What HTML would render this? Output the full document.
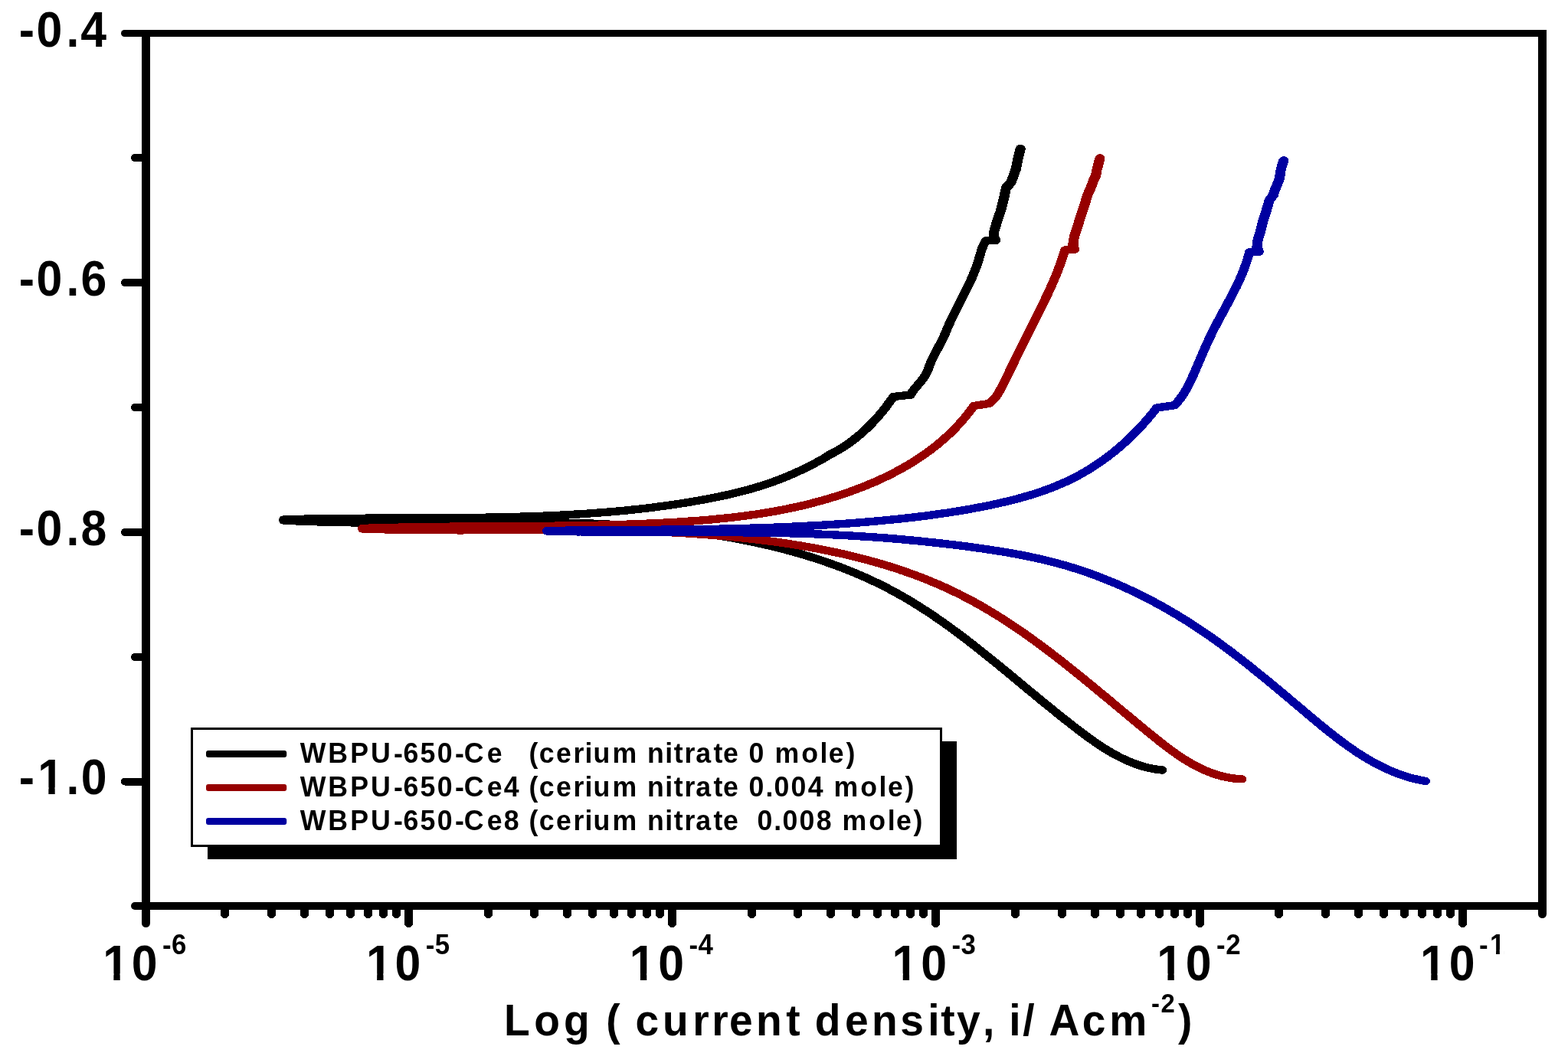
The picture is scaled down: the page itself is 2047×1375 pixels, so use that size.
<!DOCTYPE html>
<html lang="en">
<head>
<meta charset="utf-8">
<title>Polarization curves</title>
<style>
html,body{margin:0;padding:0;background:#fff;}
body{width:2047px;height:1375px;overflow:hidden;position:relative;}
</style>
</head>
<body>
<svg width="2047" height="1375" viewBox="0 0 2047 1375" style="position:absolute;left:0;top:0;display:block">
<rect x="0" y="0" width="2047" height="1375" fill="#ffffff"/>
<g fill="#000" shape-rendering="crispEdges">
<rect x="162" y="39" width="1857" height="9"/>
<rect x="176" y="1178" width="1843" height="10"/>
<rect x="185" y="39" width="11" height="1166.5"/>
<rect x="2008" y="39" width="11" height="1154.5"/>
</g>
<g fill="#000">
<circle cx="162.5" cy="43.5" r="4.5"/>
<circle cx="176" cy="1183" r="5"/>
<circle cx="190.5" cy="1205.5" r="5.5"/>
<circle cx="2013.5" cy="1193.5" r="5.5"/>
</g>
<g stroke="#000" stroke-linecap="round" fill="none" shape-rendering="crispEdges">
<line x1="163" y1="369" x2="188" y2="369" stroke-width="10"/>
<line x1="163" y1="695" x2="188" y2="695" stroke-width="10"/>
<line x1="163" y1="1020.5" x2="188" y2="1020.5" stroke-width="10"/>
<line x1="176" y1="206" x2="188" y2="206" stroke-width="10"/>
<line x1="176" y1="532" x2="188" y2="532" stroke-width="10"/>
<line x1="176" y1="858" x2="188" y2="858" stroke-width="10"/>
<line x1="533.50" y1="1185" x2="533.50" y2="1205.5" stroke-width="11"/>
<line x1="877.50" y1="1185" x2="877.50" y2="1205.5" stroke-width="11"/>
<line x1="1221.50" y1="1185" x2="1221.50" y2="1205.5" stroke-width="11"/>
<line x1="1566.50" y1="1185" x2="1566.50" y2="1205.5" stroke-width="11"/>
<line x1="1909.50" y1="1185" x2="1909.50" y2="1205.5" stroke-width="11"/>
<line x1="293.50" y1="1185" x2="293.50" y2="1193.5" stroke-width="11"/>
<line x1="354.50" y1="1185" x2="354.50" y2="1193.5" stroke-width="11"/>
<line x1="397.50" y1="1185" x2="397.50" y2="1193.5" stroke-width="11"/>
<line x1="430.50" y1="1185" x2="430.50" y2="1193.5" stroke-width="11"/>
<line x1="457.50" y1="1185" x2="457.50" y2="1193.5" stroke-width="11"/>
<line x1="480.50" y1="1185" x2="480.50" y2="1193.5" stroke-width="11"/>
<line x1="500.50" y1="1185" x2="500.50" y2="1193.5" stroke-width="11"/>
<line x1="517.50" y1="1185" x2="517.50" y2="1193.5" stroke-width="11"/>
<line x1="637.50" y1="1185" x2="637.50" y2="1193.5" stroke-width="11"/>
<line x1="697.50" y1="1185" x2="697.50" y2="1193.5" stroke-width="11"/>
<line x1="740.50" y1="1185" x2="740.50" y2="1193.5" stroke-width="11"/>
<line x1="773.50" y1="1185" x2="773.50" y2="1193.5" stroke-width="11"/>
<line x1="801.50" y1="1185" x2="801.50" y2="1193.5" stroke-width="11"/>
<line x1="824.50" y1="1185" x2="824.50" y2="1193.5" stroke-width="11"/>
<line x1="844.50" y1="1185" x2="844.50" y2="1193.5" stroke-width="11"/>
<line x1="861.50" y1="1185" x2="861.50" y2="1193.5" stroke-width="11"/>
<line x1="981.50" y1="1185" x2="981.50" y2="1193.5" stroke-width="11"/>
<line x1="1041.50" y1="1185" x2="1041.50" y2="1193.5" stroke-width="11"/>
<line x1="1084.50" y1="1185" x2="1084.50" y2="1193.5" stroke-width="11"/>
<line x1="1117.50" y1="1185" x2="1117.50" y2="1193.5" stroke-width="11"/>
<line x1="1145.50" y1="1185" x2="1145.50" y2="1193.5" stroke-width="11"/>
<line x1="1168.50" y1="1185" x2="1168.50" y2="1193.5" stroke-width="11"/>
<line x1="1188.50" y1="1185" x2="1188.50" y2="1193.5" stroke-width="11"/>
<line x1="1205.50" y1="1185" x2="1205.50" y2="1193.5" stroke-width="11"/>
<line x1="1325.50" y1="1185" x2="1325.50" y2="1193.5" stroke-width="11"/>
<line x1="1386.50" y1="1185" x2="1386.50" y2="1193.5" stroke-width="11"/>
<line x1="1429.50" y1="1185" x2="1429.50" y2="1193.5" stroke-width="11"/>
<line x1="1462.50" y1="1185" x2="1462.50" y2="1193.5" stroke-width="11"/>
<line x1="1489.50" y1="1185" x2="1489.50" y2="1193.5" stroke-width="11"/>
<line x1="1513.50" y1="1185" x2="1513.50" y2="1193.5" stroke-width="11"/>
<line x1="1533.50" y1="1185" x2="1533.50" y2="1193.5" stroke-width="11"/>
<line x1="1550.50" y1="1185" x2="1550.50" y2="1193.5" stroke-width="11"/>
<line x1="1669.50" y1="1185" x2="1669.50" y2="1193.5" stroke-width="11"/>
<line x1="1730.50" y1="1185" x2="1730.50" y2="1193.5" stroke-width="11"/>
<line x1="1773.50" y1="1185" x2="1773.50" y2="1193.5" stroke-width="11"/>
<line x1="1806.50" y1="1185" x2="1806.50" y2="1193.5" stroke-width="11"/>
<line x1="1833.50" y1="1185" x2="1833.50" y2="1193.5" stroke-width="11"/>
<line x1="1856.50" y1="1185" x2="1856.50" y2="1193.5" stroke-width="11"/>
<line x1="1876.50" y1="1185" x2="1876.50" y2="1193.5" stroke-width="11"/>
<line x1="1893.50" y1="1185" x2="1893.50" y2="1193.5" stroke-width="11"/>
</g>
<g transform="scale(1.13 1)" shape-rendering="crispEdges">
<polyline points="327.44,678.5 330.90,678.4 334.36,678.3 337.83,678.1 341.30,678.0 344.77,677.9 348.25,677.8 351.73,677.7 355.21,677.6 358.70,677.6 362.19,677.5 365.68,677.4 369.18,677.3 372.68,677.3 376.18,677.2 379.69,677.1 383.20,677.1 386.71,677.0 390.23,677.0 393.74,676.9 397.26,676.9 400.79,676.9 404.31,676.8 407.84,676.8 411.37,676.8 414.91,676.7 418.44,676.7 421.98,676.7 425.52,676.6 429.07,676.6 432.61,676.6 436.16,676.6 439.71,676.6 443.26,676.5 446.81,676.5 450.37,676.5 453.93,676.5 457.48,676.5 461.04,676.5 464.61,676.5 468.17,676.5 471.74,676.4 475.30,676.4 478.87,676.4 482.44,676.4 486.01,676.4 489.58,676.4 493.16,676.4 496.73,676.3 500.31,676.3 503.88,676.3 507.46,676.3 511.04,676.3 514.62,676.2 518.20,676.2 521.78,676.2 525.36,676.2 528.94,676.1 532.52,676.1 536.10,676.0 539.69,676.0 543.27,676.0 546.85,675.9 550.44,675.9 554.02,675.8 557.60,675.7 561.19,675.7 564.77,675.6 568.35,675.6 571.94,675.5 575.52,675.4 579.11,675.3 582.69,675.2 586.27,675.1 589.85,675.0 593.43,674.9 597.02,674.8 600.60,674.7 604.18,674.6 607.75,674.5 611.33,674.4 614.91,674.2 618.49,674.1 622.06,673.9 625.64,673.8 629.21,673.6 632.78,673.4 636.35,673.3 639.92,673.1 643.49,672.9 647.06,672.7 650.62,672.5 654.19,672.3 657.75,672.1 661.31,671.8 664.87,671.6 668.43,671.4 671.98,671.1 675.53,670.9 679.09,670.6 682.64,670.3 686.18,670.0 689.73,669.7 693.27,669.4 696.81,669.1 700.35,668.8 703.89,668.5 707.42,668.1 710.95,667.8 714.48,667.4 718.01,667.0 721.53,666.7 725.05,666.3 728.57,665.9 732.09,665.4 735.60,665.0 739.11,664.6 742.62,664.1 746.12,663.7 749.62,663.2 753.12,662.7 756.61,662.2 760.10,661.7 763.59,661.2 767.08,660.7 770.56,660.1 774.03,659.6 777.51,659.0 780.98,658.4 784.44,657.8 787.90,657.2 791.36,656.6 794.82,656.0 798.27,655.3 801.71,654.6 805.16,654.0 808.59,653.3 812.03,652.6 815.46,651.9 818.88,651.1 822.31,650.4 825.72,649.6 829.13,648.8 832.54,648.0 835.95,647.2 839.34,646.4 842.74,645.5 846.13,644.6 849.51,643.7 852.89,642.8 856.26,641.8 859.63,640.8 863.00,639.8 866.36,638.8 869.71,637.7 873.06,636.6 876.40,635.4 879.74,634.3 883.07,633.0 886.40,631.8 889.72,630.5 893.04,629.2 896.35,627.8 899.65,626.4 902.95,625.0 906.24,623.5 909.53,622.0 912.81,620.4 916.08,618.8 919.35,617.1 922.61,615.5 925.87,613.7 929.12,612.0 932.36,610.2 935.60,608.3 938.83,606.5 942.06,604.5 945.27,602.6 948.49,600.6 951.69,598.6 954.89,596.5 956.86,594.6 958.88,593.5 960.88,592.4 962.86,591.2 964.83,590.0 966.78,588.8 968.71,587.5 970.63,586.2 972.53,584.9 974.41,583.6 976.28,582.2 978.12,580.8 979.95,579.4 981.77,577.9 983.56,576.4 985.34,574.9 987.10,573.4 988.85,571.8 990.58,570.3 992.29,568.6 993.98,567.0 995.66,565.4 997.32,563.7 998.96,562.0 1000.59,560.3 1002.19,558.5 1003.79,556.8 1005.36,555.0 1006.92,553.2 1008.46,551.4 1009.98,549.6 1011.49,547.7 1012.98,545.8 1014.45,543.9 1015.91,542.0 1017.35,540.1 1018.77,538.2 1020.18,536.2 1021.57,534.2 1022.94,532.3 1024.30,530.3 1025.64,528.2 1026.96,526.2 1028.26,524.2 1029.55,522.1 1030.83,520.1 1032.08,518.0 1051.99,515.6 1052.89,513.7 1053.97,511.8 1055.20,509.9 1056.54,507.9 1057.98,505.9 1059.48,503.9 1061.02,501.9 1062.57,499.8 1064.09,497.8 1065.57,495.7 1066.96,493.6 1068.26,491.4 1069.42,489.3 1070.43,487.1 1071.32,484.9 1072.11,482.7 1072.85,480.5 1073.57,478.3 1074.31,476.1 1075.10,473.9 1075.94,471.6 1076.84,469.4 1077.78,467.1 1078.76,464.9 1079.77,462.7 1080.81,460.4 1081.87,458.1 1082.94,455.9 1084.01,453.6 1085.08,451.4 1086.14,449.1 1087.18,446.9 1088.21,444.6 1089.20,442.3 1090.15,440.1 1091.07,437.8 1091.95,435.5 1092.81,433.3 1093.65,431.0 1094.50,428.7 1095.35,426.5 1096.23,424.2 1097.12,422.0 1098.04,419.7 1098.97,417.4 1099.91,415.2 1100.88,412.9 1101.85,410.7 1102.84,408.4 1103.83,406.2 1104.84,403.9 1105.85,401.6 1106.87,399.4 1107.89,397.1 1108.92,394.9 1109.94,392.6 1110.97,390.4 1111.99,388.1 1113.01,385.8 1114.03,383.6 1115.04,381.3 1116.04,379.0 1117.03,376.8 1118.01,374.5 1118.98,372.2 1119.94,370.0 1120.88,367.7 1121.80,365.4 1122.70,363.1 1123.59,360.9 1124.45,358.6 1125.29,356.3 1126.11,354.0 1126.90,351.7 1127.66,349.4 1128.40,347.1 1129.10,344.8 1129.77,342.5 1130.41,340.2 1131.02,337.9 1131.61,335.6 1132.19,333.2 1132.79,330.9 1133.42,328.6 1134.09,326.2 1134.82,323.9 1135.64,321.6 1136.55,319.2 1137.58,316.9 1138.76,314.5 1150.00,313.5 1147.96,309.0 1148.50,302.2 1151.59,290.5 1155.75,276.6 1159.29,261.4 1162.39,245.2 1168.05,238.2 1171.15,228.9 1173.72,220.7 1175.75,209.1 1178.85,194.5" fill="none" stroke="#000000" stroke-width="10.4" stroke-linecap="round" stroke-linejoin="round"/>
<polyline points="956.86,594.6 958.88,593.5 960.88,592.4 962.86,591.2 964.83,590.0 966.78,588.8 968.71,587.5 970.63,586.2 972.53,584.9 974.41,583.6 976.28,582.2 978.12,580.8 979.95,579.4 981.77,577.9 983.56,576.4 985.34,574.9 987.10,573.4 988.85,571.8 990.58,570.3 992.29,568.6 993.98,567.0 995.66,565.4 997.32,563.7 998.96,562.0 1000.59,560.3 1002.19,558.5 1003.79,556.8 1005.36,555.0 1006.92,553.2 1008.46,551.4 1009.98,549.6 1011.49,547.7 1012.98,545.8 1014.45,543.9 1015.91,542.0 1017.35,540.1 1018.77,538.2 1020.18,536.2 1021.57,534.2 1022.94,532.3 1024.30,530.3 1025.64,528.2 1026.96,526.2 1028.26,524.2 1029.55,522.1 1030.83,520.1 1032.08,518.0" fill="none" stroke="#000000" stroke-width="10.7" stroke-linecap="round" stroke-linejoin="round"/>
<polyline points="1051.99,515.6 1052.89,513.7 1053.97,511.8 1055.20,509.9 1056.54,507.9 1057.98,505.9 1059.48,503.9 1061.02,501.9 1062.57,499.8 1064.09,497.8 1065.57,495.7 1066.96,493.6 1068.26,491.4 1069.42,489.3 1070.43,487.1 1071.32,484.9 1072.11,482.7 1072.85,480.5 1073.57,478.3 1074.31,476.1 1075.10,473.9 1075.94,471.6 1076.84,469.4 1077.78,467.1 1078.76,464.9 1079.77,462.7 1080.81,460.4 1081.87,458.1 1082.94,455.9 1084.01,453.6 1085.08,451.4 1086.14,449.1 1087.18,446.9 1088.21,444.6 1089.20,442.3 1090.15,440.1 1091.07,437.8 1091.95,435.5 1092.81,433.3 1093.65,431.0 1094.50,428.7 1095.35,426.5 1096.23,424.2 1097.12,422.0 1098.04,419.7 1098.97,417.4 1099.91,415.2 1100.88,412.9 1101.85,410.7 1102.84,408.4 1103.83,406.2 1104.84,403.9 1105.85,401.6 1106.87,399.4 1107.89,397.1 1108.92,394.9 1109.94,392.6 1110.97,390.4 1111.99,388.1 1113.01,385.8 1114.03,383.6 1115.04,381.3 1116.04,379.0 1117.03,376.8 1118.01,374.5 1118.98,372.2 1119.94,370.0 1120.88,367.7 1121.80,365.4 1122.70,363.1 1123.59,360.9 1124.45,358.6 1125.29,356.3 1126.11,354.0 1126.90,351.7 1127.66,349.4 1128.40,347.1 1129.10,344.8 1129.77,342.5 1130.41,340.2 1131.02,337.9 1131.61,335.6 1132.19,333.2 1132.79,330.9 1133.42,328.6 1134.09,326.2 1134.82,323.9 1135.64,321.6 1136.55,319.2 1137.58,316.9 1138.76,314.5" fill="none" stroke="#000000" stroke-width="10.7" stroke-linecap="round" stroke-linejoin="round"/>
<polyline points="1150.00,313.5 1147.96,309.0 1148.50,302.2 1151.59,290.5 1155.75,276.6 1159.29,261.4 1162.39,245.2 1168.05,238.2 1171.15,228.9 1173.72,220.7 1175.75,209.1 1178.85,194.5" fill="none" stroke="#000000" stroke-width="11.6" stroke-linecap="round" stroke-linejoin="round"/>
<polyline points="327.44,679.5 330.96,679.7 334.48,679.9 338.00,680.1 341.52,680.3 345.05,680.5 348.57,680.6 352.10,680.8 355.62,680.9 359.15,681.1 362.68,681.2 366.21,681.3 369.75,681.5 373.28,681.6 376.81,681.7 380.35,681.8 383.89,681.9 387.42,682.0 390.96,682.0 394.50,682.1 398.04,682.2 401.58,682.2 405.12,682.3 408.67,682.3 412.21,682.4 415.76,682.4 419.30,682.5 422.85,682.5 426.40,682.5 429.94,682.5 433.49,682.6 437.04,682.6 440.59,682.6 444.14,682.6 447.69,682.6 451.25,682.6 454.80,682.6 458.35,682.6 461.91,682.6 465.46,682.6 469.01,682.5 472.57,682.5 476.13,682.5 479.68,682.5 483.24,682.5 486.80,682.4 490.36,682.4 493.91,682.4 497.47,682.3 501.03,682.3 504.59,682.3 508.15,682.3 511.71,682.2 515.27,682.2 518.83,682.2 522.39,682.1 525.95,682.1 529.51,682.1 533.08,682.0 536.64,682.0 540.20,682.0 543.76,681.9 547.32,681.9 550.88,681.9 554.45,681.9 558.01,681.8 561.57,681.8 565.13,681.8 568.69,681.8 572.26,681.8 575.82,681.8 579.38,681.8 582.94,681.8 586.50,681.8 590.07,681.8 593.63,681.8 597.19,681.8 600.75,681.8 604.31,681.8 607.87,681.8 611.43,681.8 614.99,681.9 618.55,681.9 622.11,682.0 625.67,682.0 629.23,682.1 632.79,682.1 636.35,682.2 639.90,682.2 643.46,682.3 647.02,682.4 650.57,682.5 654.13,682.6 657.68,682.7 661.24,682.8 664.79,682.9 668.35,683.0 671.90,683.1 675.45,683.3 679.00,683.4 682.55,683.6 686.10,683.7 689.65,683.9 693.20,684.1 696.75,684.3 700.30,684.5 703.85,684.7 707.39,684.9 710.94,685.1 714.48,685.3 718.02,685.6 721.57,685.8 725.11,686.1 728.65,686.4 732.19,686.6 735.73,686.9 739.27,687.2 742.80,687.6 746.34,687.9 749.87,688.2 753.41,688.6 756.94,688.9 760.47,689.3 764.00,689.7 767.53,690.1 771.06,690.5 774.59,690.9 778.11,691.3 781.64,691.8 785.16,692.2 788.68,692.7 792.20,693.2 795.72,693.7 799.24,694.2 802.76,694.7 806.27,695.3 809.79,695.8 813.30,696.4 816.81,697.0 820.32,697.6 823.83,698.2 827.34,698.8 830.84,699.5 834.35,700.1 837.85,700.8 841.35,701.5 844.85,702.2 848.35,702.9 851.84,703.6 855.34,704.4 858.83,705.2 862.32,706.0 865.81,706.8 869.30,707.6 872.79,708.4 876.27,709.3 879.75,710.2 883.23,711.1 886.71,712.0 890.18,712.9 893.66,713.8 897.12,714.8 900.59,715.8 904.05,716.8 907.50,717.8 910.96,718.9 914.40,719.9 917.85,721.0 921.28,722.1 924.71,723.2 928.14,724.4 931.56,725.5 934.97,726.7 938.37,727.9 941.77,729.1 945.16,730.4 948.55,731.7 951.92,732.9 955.29,734.3 958.65,735.6 962.00,736.9 965.34,738.3 968.68,739.7 972.00,741.1 975.31,742.6 978.62,744.0 981.91,745.5 985.19,747.0 988.46,748.6 991.72,750.1 994.97,751.7 998.21,753.3 1001.43,754.9 1004.64,756.6 1007.84,758.3 1011.03,760.0 1014.20,761.7 1017.36,763.5 1020.51,765.2 1023.64,767.0 1026.76,768.9 1029.86,770.7 1032.95,772.6 1036.03,774.5 1039.09,776.4 1042.13,778.4 1045.17,780.3 1048.19,782.3 1051.19,784.4 1054.19,786.4 1057.17,788.5 1060.14,790.6 1063.10,792.7 1066.05,794.8 1068.99,797.0 1071.92,799.1 1074.83,801.3 1077.74,803.5 1080.64,805.7 1083.53,808.0 1086.40,810.2 1089.27,812.5 1092.14,814.8 1094.99,817.1 1097.84,819.4 1100.67,821.8 1103.51,824.1 1106.33,826.5 1109.15,828.9 1111.96,831.3 1114.77,833.7 1117.57,836.1 1120.36,838.6 1123.15,841.0 1125.94,843.5 1128.72,845.9 1131.49,848.4 1134.27,850.9 1137.04,853.4 1139.80,855.9 1142.57,858.4 1145.33,860.9 1148.09,863.4 1150.85,866.0 1153.60,868.5 1156.36,871.1 1159.11,873.6 1161.86,876.2 1164.62,878.7 1167.37,881.3 1170.12,883.9 1172.88,886.5 1175.63,889.0 1178.39,891.6 1181.15,894.2 1183.91,896.8 1186.67,899.4 1189.43,902.0 1192.20,904.5 1194.97,907.1 1197.74,909.7 1200.52,912.3 1203.30,914.9 1206.09,917.5 1208.88,920.0 1211.67,922.6 1214.48,925.2 1217.28,927.7 1220.09,930.3 1222.91,932.9 1225.74,935.4 1228.57,938.0 1231.41,940.5 1234.26,943.0 1237.11,945.6 1239.97,948.1 1242.85,950.6 1245.73,953.1 1248.62,955.6 1251.52,958.0 1254.43,960.5 1257.35,962.9 1260.29,965.3 1263.24,967.6 1266.20,970.0 1269.17,972.2 1272.16,974.5 1275.17,976.7 1278.19,978.8 1281.23,980.9 1284.28,982.9 1287.35,984.9 1290.44,986.8 1293.55,988.6 1296.68,990.4 1299.83,992.0 1303.00,993.6 1306.19,995.2 1309.40,996.6 1312.64,998.0 1315.90,999.2 1319.18,1000.4 1322.49,1001.4 1325.82,1002.4 1329.18,1003.2 1332.56,1004.0 1335.97,1004.6 1339.41,1005.1 1342.87,1005.5" fill="none" stroke="#000000" stroke-width="10.4" stroke-linecap="round" stroke-linejoin="round"/>
<polyline points="418.60,690.0 422.03,689.9 425.46,689.7 428.89,689.6 432.33,689.5 435.78,689.4 439.22,689.3 442.68,689.1 446.14,689.0 449.60,688.9 453.07,688.8 456.54,688.7 460.01,688.7 463.49,688.6 466.98,688.5 470.46,688.4 473.95,688.3 477.45,688.3 480.95,688.2 484.45,688.1 487.96,688.1 491.47,688.0 494.98,688.0 498.50,687.9 502.02,687.9 505.54,687.8 509.06,687.8 512.59,687.7 516.13,687.7 519.66,687.7 523.20,687.6 526.74,687.6 530.29,687.6 533.83,687.5 537.38,687.5 540.93,687.5 544.49,687.4 548.04,687.4 551.60,687.4 555.17,687.4 558.73,687.3 562.29,687.3 565.86,687.3 569.43,687.3 573.00,687.2 576.58,687.2 580.15,687.2 583.73,687.2 587.31,687.1 590.89,687.1 594.47,687.1 598.05,687.1 601.64,687.0 605.23,687.0 608.81,687.0 612.40,687.0 615.99,686.9 619.58,686.9 623.17,686.9 626.77,686.8 630.36,686.8 633.95,686.7 637.55,686.7 641.14,686.7 644.74,686.6 648.33,686.6 651.93,686.5 655.53,686.4 659.13,686.4 662.72,686.3 666.32,686.3 669.92,686.2 673.52,686.1 677.11,686.0 680.71,686.0 684.31,685.9 687.90,685.8 691.50,685.7 695.10,685.6 698.69,685.5 702.29,685.4 705.88,685.3 709.47,685.2 713.07,685.1 716.66,685.0 720.25,684.8 723.84,684.7 727.43,684.6 731.02,684.4 734.60,684.3 738.19,684.1 741.77,683.9 745.35,683.8 748.93,683.6 752.51,683.4 756.09,683.2 759.67,683.1 763.24,682.9 766.81,682.7 770.39,682.4 773.95,682.2 777.52,682.0 781.08,681.8 784.65,681.5 788.21,681.3 791.76,681.0 795.32,680.7 798.87,680.5 802.42,680.2 805.97,679.9 809.51,679.6 813.06,679.2 816.60,678.9 820.13,678.6 823.67,678.2 827.20,677.8 830.72,677.4 834.25,677.0 837.77,676.6 841.29,676.2 844.80,675.8 848.31,675.3 851.82,674.8 855.32,674.3 858.82,673.8 862.32,673.3 865.81,672.8 869.30,672.2 872.78,671.7 876.26,671.1 879.74,670.5 883.21,669.8 886.68,669.2 890.15,668.5 893.61,667.9 897.06,667.2 900.51,666.4 903.96,665.7 907.40,664.9 910.84,664.1 914.27,663.3 917.70,662.5 921.12,661.6 924.53,660.8 927.95,659.9 931.35,659.0 934.76,658.0 938.15,657.0 941.54,656.0 944.93,655.0 948.31,654.0 951.68,652.9 955.05,651.8 958.42,650.7 961.78,649.5 965.13,648.4 968.47,647.2 971.81,645.9 975.15,644.7 978.48,643.4 981.80,642.1 985.11,640.7 988.42,639.3 991.72,637.9 995.02,636.5 998.31,635.0 1001.59,633.5 1004.86,632.0 1008.12,630.4 1011.36,628.9 1014.60,627.2 1017.82,625.6 1021.03,623.9 1024.23,622.1 1027.41,620.4 1030.57,618.6 1033.72,616.7 1036.85,614.9 1039.96,613.0 1043.05,611.0 1046.12,609.0 1049.18,607.0 1052.21,605.0 1055.21,602.9 1058.20,600.7 1061.16,598.6 1064.09,596.3 1067.01,594.1 1069.89,591.8 1072.75,589.4 1075.57,587.1 1078.37,584.6 1081.14,582.2 1083.88,579.7 1086.59,577.1 1089.27,574.5 1091.91,571.9 1094.52,569.2 1097.10,566.5 1099.64,563.7 1102.15,560.9 1104.61,558.0 1107.04,555.1 1109.44,552.1 1111.79,549.1 1114.10,546.1 1116.38,543.0 1118.61,539.8 1120.79,536.6 1122.94,533.3 1125.04,530.0 1142.70,526.9 1144.72,525.1 1146.53,523.2 1148.17,521.3 1149.64,519.4 1150.98,517.4 1152.21,515.4 1153.35,513.4 1154.43,511.3 1155.48,509.2 1156.50,507.1 1157.50,505.0 1158.50,502.9 1159.48,500.7 1160.46,498.5 1161.43,496.3 1162.39,494.1 1163.35,491.8 1164.31,489.6 1165.27,487.4 1166.24,485.1 1167.20,482.8 1168.17,480.6 1169.14,478.3 1170.12,476.0 1171.09,473.7 1172.08,471.4 1173.06,469.1 1174.05,466.9 1175.04,464.6 1176.03,462.3 1177.02,460.0 1178.02,457.7 1179.02,455.4 1180.02,453.1 1181.02,450.8 1182.03,448.5 1183.03,446.2 1184.04,443.9 1185.05,441.7 1186.06,439.4 1187.07,437.1 1188.08,434.9 1189.09,432.6 1190.10,430.3 1191.11,428.1 1192.12,425.8 1193.13,423.6 1194.14,421.3 1195.14,419.1 1196.15,416.8 1197.15,414.5 1198.15,412.3 1199.15,410.0 1200.14,407.8 1201.13,405.5 1202.12,403.3 1203.11,401.0 1204.09,398.8 1205.06,396.5 1206.03,394.2 1207.00,392.0 1207.96,389.7 1208.92,387.4 1209.87,385.2 1210.82,382.9 1211.76,380.6 1212.69,378.3 1213.61,376.0 1214.53,373.8 1215.44,371.5 1216.34,369.2 1217.23,366.9 1218.11,364.5 1218.98,362.2 1219.83,359.9 1220.68,357.6 1221.50,355.2 1222.32,352.9 1223.11,350.5 1223.90,348.2 1224.66,345.8 1225.41,343.4 1226.13,341.1 1226.84,338.7 1227.53,336.3 1228.20,333.9 1228.86,331.5 1229.57,329.0 1230.35,326.6 1241.15,325.4 1239.65,319.6 1241.15,308.0 1244.78,296.3 1248.85,281.2 1253.01,267.3 1256.11,255.6 1260.18,245.2 1263.27,235.8 1265.84,230.0 1267.43,220.7 1270.71,207.0" fill="none" stroke="#960000" stroke-width="10.4" stroke-linecap="round" stroke-linejoin="round"/>
<polyline points="1142.70,526.9 1144.72,525.1 1146.53,523.2 1148.17,521.3 1149.64,519.4 1150.98,517.4 1152.21,515.4 1153.35,513.4 1154.43,511.3 1155.48,509.2 1156.50,507.1 1157.50,505.0 1158.50,502.9 1159.48,500.7 1160.46,498.5 1161.43,496.3 1162.39,494.1 1163.35,491.8 1164.31,489.6 1165.27,487.4 1166.24,485.1 1167.20,482.8 1168.17,480.6 1169.14,478.3 1170.12,476.0 1171.09,473.7 1172.08,471.4 1173.06,469.1 1174.05,466.9 1175.04,464.6 1176.03,462.3 1177.02,460.0 1178.02,457.7 1179.02,455.4 1180.02,453.1 1181.02,450.8 1182.03,448.5 1183.03,446.2 1184.04,443.9 1185.05,441.7 1186.06,439.4 1187.07,437.1 1188.08,434.9 1189.09,432.6 1190.10,430.3 1191.11,428.1 1192.12,425.8 1193.13,423.6 1194.14,421.3 1195.14,419.1 1196.15,416.8 1197.15,414.5 1198.15,412.3 1199.15,410.0 1200.14,407.8 1201.13,405.5 1202.12,403.3 1203.11,401.0 1204.09,398.8 1205.06,396.5 1206.03,394.2 1207.00,392.0 1207.96,389.7 1208.92,387.4 1209.87,385.2 1210.82,382.9 1211.76,380.6 1212.69,378.3 1213.61,376.0 1214.53,373.8 1215.44,371.5 1216.34,369.2 1217.23,366.9 1218.11,364.5 1218.98,362.2 1219.83,359.9 1220.68,357.6 1221.50,355.2 1222.32,352.9 1223.11,350.5 1223.90,348.2 1224.66,345.8 1225.41,343.4 1226.13,341.1 1226.84,338.7 1227.53,336.3 1228.20,333.9 1228.86,331.5 1229.57,329.0 1230.35,326.6" fill="none" stroke="#960000" stroke-width="10.7" stroke-linecap="round" stroke-linejoin="round"/>
<polyline points="1241.15,325.4 1239.65,319.6 1241.15,308.0 1244.78,296.3 1248.85,281.2 1253.01,267.3 1256.11,255.6 1260.18,245.2 1263.27,235.8 1265.84,230.0 1267.43,220.7 1270.71,207.0" fill="none" stroke="#960000" stroke-width="11.6" stroke-linecap="round" stroke-linejoin="round"/>
<polyline points="418.58,690.5 422.15,690.6 425.71,690.8 429.27,690.9 432.84,691.0 436.40,691.1 439.96,691.2 443.52,691.3 447.08,691.4 450.63,691.5 454.19,691.5 457.75,691.6 461.30,691.7 464.86,691.7 468.41,691.8 471.96,691.9 475.52,691.9 479.07,692.0 482.62,692.0 486.17,692.0 489.72,692.1 493.27,692.1 496.81,692.1 500.36,692.2 503.91,692.2 507.45,692.2 511.00,692.2 514.54,692.2 518.08,692.2 521.63,692.2 525.17,692.2 528.71,692.3 532.25,692.3 535.79,692.3 539.33,692.2 542.87,692.2 546.41,692.2 549.95,692.2 553.49,692.2 557.02,692.2 560.56,692.2 564.10,692.2 567.63,692.2 571.17,692.2 574.70,692.1 578.24,692.1 581.77,692.1 585.30,692.1 588.84,692.1 592.37,692.1 595.90,692.1 599.43,692.0 602.96,692.0 606.49,692.0 610.02,692.0 613.56,692.0 617.09,692.0 620.61,692.0 624.14,692.0 627.67,692.0 631.20,692.0 634.73,692.0 638.26,692.0 641.79,692.0 645.32,692.0 648.84,692.0 652.37,692.0 655.90,692.0 659.42,692.1 662.95,692.1 666.48,692.1 670.01,692.1 673.53,692.2 677.06,692.2 680.58,692.2 684.11,692.3 687.64,692.3 691.16,692.4 694.69,692.4 698.21,692.5 701.74,692.6 705.27,692.6 708.79,692.7 712.32,692.8 715.84,692.9 719.37,693.0 722.89,693.1 726.42,693.2 729.95,693.3 733.47,693.4 737.00,693.5 740.52,693.7 744.05,693.8 747.58,693.9 751.10,694.1 754.63,694.2 758.16,694.4 761.68,694.6 765.21,694.7 768.74,694.9 772.27,695.1 775.79,695.3 779.32,695.5 782.85,695.7 786.38,695.9 789.91,696.2 793.44,696.4 796.96,696.7 800.49,696.9 804.02,697.2 807.55,697.5 811.08,697.7 814.61,698.0 818.15,698.3 821.68,698.6 825.21,699.0 828.74,699.3 832.27,699.6 835.81,700.0 839.34,700.3 842.87,700.7 846.41,701.1 849.94,701.5 853.48,701.9 857.01,702.3 860.55,702.7 864.09,703.2 867.62,703.6 871.16,704.1 874.70,704.5 878.24,705.0 881.78,705.5 885.31,706.0 888.85,706.5 892.39,707.1 895.93,707.6 899.47,708.2 903.00,708.7 906.54,709.3 910.07,709.9 913.61,710.5 917.14,711.2 920.67,711.8 924.19,712.4 927.72,713.1 931.24,713.8 934.76,714.5 938.28,715.2 941.80,715.9 945.31,716.7 948.82,717.4 952.32,718.2 955.82,719.0 959.32,719.8 962.81,720.7 966.30,721.5 969.79,722.4 973.27,723.2 976.74,724.1 980.21,725.0 983.68,726.0 987.14,726.9 990.59,727.9 994.04,728.9 997.48,729.9 1000.92,730.9 1004.35,732.0 1007.77,733.0 1011.19,734.1 1014.60,735.2 1018.00,736.3 1021.40,737.5 1024.79,738.6 1028.17,739.8 1031.54,741.0 1034.91,742.2 1038.27,743.5 1041.61,744.8 1044.95,746.0 1048.29,747.4 1051.61,748.7 1054.92,750.0 1058.23,751.4 1061.52,752.8 1064.81,754.2 1068.08,755.7 1071.35,757.2 1074.60,758.7 1077.85,760.2 1081.08,761.7 1084.30,763.3 1087.52,764.9 1090.72,766.5 1093.91,768.1 1097.09,769.8 1100.25,771.5 1103.41,773.2 1106.55,774.9 1109.68,776.7 1112.80,778.5 1115.90,780.3 1119.00,782.1 1122.08,784.0 1125.15,785.9 1128.21,787.8 1131.26,789.7 1134.30,791.7 1137.33,793.7 1140.35,795.7 1143.35,797.7 1146.35,799.7 1149.34,801.8 1152.32,803.9 1155.29,806.0 1158.25,808.1 1161.20,810.3 1164.14,812.4 1167.07,814.6 1170.00,816.8 1172.91,819.0 1175.82,821.2 1178.72,823.5 1181.62,825.8 1184.50,828.0 1187.38,830.3 1190.25,832.6 1193.12,835.0 1195.97,837.3 1198.83,839.7 1201.67,842.0 1204.51,844.4 1207.35,846.8 1210.17,849.2 1213.00,851.6 1215.81,854.1 1218.63,856.5 1221.43,859.0 1224.24,861.4 1227.04,863.9 1229.83,866.4 1232.62,868.9 1235.41,871.4 1238.19,873.9 1240.97,876.4 1243.75,878.9 1246.52,881.5 1249.29,884.0 1252.06,886.5 1254.83,889.1 1257.59,891.6 1260.35,894.2 1263.11,896.8 1265.87,899.3 1268.62,901.9 1271.38,904.5 1274.13,907.1 1276.89,909.6 1279.64,912.2 1282.39,914.8 1285.14,917.4 1287.90,920.0 1290.65,922.6 1293.40,925.2 1296.15,927.8 1298.91,930.4 1301.66,933.0 1304.42,935.5 1307.18,938.1 1309.94,940.7 1312.70,943.3 1315.46,945.9 1318.22,948.5 1320.99,951.0 1323.76,953.6 1326.53,956.2 1329.31,958.7 1332.09,961.3 1334.87,963.8 1337.66,966.3 1340.46,968.9 1343.27,971.3 1346.09,973.8 1348.92,976.2 1351.76,978.6 1354.62,981.0 1357.49,983.3 1360.38,985.6 1363.29,987.8 1366.22,990.0 1369.17,992.1 1372.14,994.2 1375.14,996.2 1378.16,998.2 1381.21,1000.0 1384.28,1001.8 1387.39,1003.5 1390.53,1005.2 1393.69,1006.7 1396.90,1008.2 1400.13,1009.5 1403.41,1010.8 1406.72,1012.0 1410.07,1013.1 1413.46,1014.0 1416.89,1014.9 1420.36,1015.6 1423.88,1016.2 1427.44,1016.7 1431.06,1017.1 1434.71,1017.3" fill="none" stroke="#960000" stroke-width="10.4" stroke-linecap="round" stroke-linejoin="round"/>
<polyline points="631.86,693.0 635.44,692.9 639.03,692.9 642.61,692.8 646.19,692.8 649.77,692.7 653.35,692.7 656.93,692.6 660.50,692.6 664.07,692.5 667.65,692.5 671.22,692.5 674.78,692.4 678.35,692.4 681.92,692.4 685.48,692.3 689.04,692.3 692.60,692.3 696.16,692.2 699.72,692.2 703.28,692.2 706.83,692.1 710.39,692.1 713.94,692.1 717.49,692.1 721.04,692.0 724.59,692.0 728.14,692.0 731.69,691.9 735.24,691.9 738.78,691.9 742.33,691.9 745.87,691.8 749.42,691.8 752.96,691.8 756.50,691.7 760.04,691.7 763.58,691.7 767.12,691.6 770.66,691.6 774.20,691.5 777.74,691.5 781.27,691.5 784.81,691.4 788.35,691.4 791.88,691.3 795.42,691.3 798.95,691.2 802.49,691.2 806.02,691.1 809.55,691.1 813.09,691.0 816.62,690.9 820.16,690.9 823.69,690.8 827.22,690.7 830.75,690.7 834.29,690.6 837.82,690.5 841.35,690.4 844.89,690.3 848.42,690.2 851.95,690.1 855.49,690.0 859.02,689.9 862.55,689.8 866.09,689.7 869.62,689.6 873.16,689.5 876.69,689.4 880.23,689.2 883.76,689.1 887.30,689.0 890.83,688.8 894.37,688.7 897.91,688.5 901.45,688.4 904.99,688.2 908.53,688.1 912.07,687.9 915.61,687.7 919.15,687.5 922.69,687.3 926.23,687.2 929.78,687.0 933.32,686.7 936.87,686.5 940.42,686.3 943.96,686.1 947.51,685.9 951.06,685.6 954.61,685.4 958.17,685.1 961.72,684.9 965.27,684.6 968.83,684.4 972.39,684.1 975.94,683.8 979.50,683.5 983.07,683.2 986.63,682.9 990.19,682.6 993.76,682.3 997.32,681.9 1000.89,681.6 1004.46,681.3 1008.03,680.9 1011.60,680.6 1015.18,680.2 1018.75,679.8 1022.33,679.4 1025.91,679.0 1029.49,678.6 1033.08,678.2 1036.66,677.8 1040.25,677.4 1043.83,676.9 1047.42,676.5 1051.01,676.0 1054.59,675.6 1058.18,675.1 1061.76,674.6 1065.35,674.1 1068.93,673.6 1072.51,673.1 1076.09,672.5 1079.67,672.0 1083.24,671.4 1086.81,670.8 1090.38,670.3 1093.94,669.7 1097.50,669.1 1101.06,668.4 1104.61,667.8 1108.15,667.1 1111.69,666.5 1115.22,665.8 1118.75,665.1 1122.27,664.4 1125.79,663.6 1129.30,662.9 1132.80,662.1 1136.29,661.4 1139.78,660.6 1143.26,659.8 1146.72,658.9 1150.18,658.1 1153.64,657.2 1157.08,656.3 1160.51,655.4 1163.93,654.5 1167.34,653.6 1170.74,652.6 1174.13,651.6 1177.51,650.6 1180.87,649.6 1184.23,648.5 1187.57,647.4 1190.90,646.3 1194.21,645.1 1197.52,643.9 1200.81,642.7 1204.08,641.4 1207.34,640.1 1210.59,638.8 1213.82,637.4 1217.03,636.0 1220.23,634.5 1223.42,633.0 1226.59,631.5 1229.74,629.9 1232.87,628.3 1235.99,626.6 1239.09,624.9 1242.17,623.1 1245.24,621.3 1248.28,619.4 1251.31,617.5 1254.32,615.5 1257.30,613.5 1260.27,611.4 1263.22,609.3 1266.15,607.1 1269.06,604.9 1271.94,602.7 1274.81,600.4 1277.65,598.0 1280.47,595.7 1283.27,593.2 1286.05,590.8 1288.80,588.2 1291.53,585.7 1294.24,583.1 1296.92,580.4 1299.58,577.7 1302.21,575.0 1304.82,572.2 1307.41,569.4 1309.97,566.6 1312.50,563.7 1315.00,560.7 1317.48,557.7 1319.94,554.7 1322.36,551.7 1324.76,548.6 1327.13,545.4 1329.48,542.3 1331.79,539.0 1334.08,535.8 1336.33,532.5 1357.17,529.1 1358.75,527.2 1360.26,525.2 1361.70,523.2 1363.09,521.2 1364.42,519.1 1365.70,517.1 1366.93,515.0 1368.11,512.9 1369.25,510.8 1370.35,508.7 1371.41,506.5 1372.44,504.4 1373.44,502.2 1374.41,500.0 1375.36,497.8 1376.28,495.6 1377.19,493.4 1378.08,491.2 1378.96,488.9 1379.84,486.7 1380.70,484.4 1381.57,482.1 1382.44,479.9 1383.30,477.6 1384.17,475.3 1385.03,473.0 1385.90,470.7 1386.77,468.4 1387.65,466.1 1388.52,463.8 1389.40,461.5 1390.29,459.2 1391.18,456.9 1392.08,454.6 1392.99,452.3 1393.90,450.0 1394.82,447.7 1395.75,445.4 1396.69,443.1 1397.64,440.8 1398.60,438.5 1399.57,436.3 1400.55,434.0 1401.54,431.7 1402.55,429.5 1403.56,427.2 1404.59,425.0 1405.62,422.8 1406.66,420.5 1407.71,418.3 1408.76,416.1 1409.81,413.8 1410.87,411.6 1411.94,409.4 1413.00,407.2 1414.06,405.0 1415.13,402.8 1416.19,400.6 1417.25,398.3 1418.31,396.1 1419.36,393.9 1420.41,391.7 1421.45,389.5 1422.49,387.3 1423.51,385.0 1424.53,382.8 1425.54,380.6 1426.54,378.3 1427.53,376.1 1428.50,373.9 1429.46,371.6 1430.41,369.3 1431.34,367.1 1432.25,364.8 1433.15,362.5 1434.03,360.2 1434.88,357.9 1435.72,355.6 1436.54,353.3 1437.34,351.0 1438.11,348.6 1438.86,346.3 1439.58,343.9 1440.28,341.6 1440.96,339.2 1441.60,336.8 1442.21,334.4 1442.80,331.9 1443.36,329.5 1454.16,328.3 1452.12,323.1 1453.10,313.8 1456.19,302.2 1459.29,288.2 1462.92,275.4 1466.55,261.4 1471.15,254.5 1472.65,248.6 1475.75,240.5 1478.32,232.4 1479.91,220.7 1483.01,210.0" fill="none" stroke="#0000a0" stroke-width="10.4" stroke-linecap="round" stroke-linejoin="round"/>
<polyline points="1357.17,529.1 1358.75,527.2 1360.26,525.2 1361.70,523.2 1363.09,521.2 1364.42,519.1 1365.70,517.1 1366.93,515.0 1368.11,512.9 1369.25,510.8 1370.35,508.7 1371.41,506.5 1372.44,504.4 1373.44,502.2 1374.41,500.0 1375.36,497.8 1376.28,495.6 1377.19,493.4 1378.08,491.2 1378.96,488.9 1379.84,486.7 1380.70,484.4 1381.57,482.1 1382.44,479.9 1383.30,477.6 1384.17,475.3 1385.03,473.0 1385.90,470.7 1386.77,468.4 1387.65,466.1 1388.52,463.8 1389.40,461.5 1390.29,459.2 1391.18,456.9 1392.08,454.6 1392.99,452.3 1393.90,450.0 1394.82,447.7 1395.75,445.4 1396.69,443.1 1397.64,440.8 1398.60,438.5 1399.57,436.3 1400.55,434.0 1401.54,431.7 1402.55,429.5 1403.56,427.2 1404.59,425.0 1405.62,422.8 1406.66,420.5 1407.71,418.3 1408.76,416.1 1409.81,413.8 1410.87,411.6 1411.94,409.4 1413.00,407.2 1414.06,405.0 1415.13,402.8 1416.19,400.6 1417.25,398.3 1418.31,396.1 1419.36,393.9 1420.41,391.7 1421.45,389.5 1422.49,387.3 1423.51,385.0 1424.53,382.8 1425.54,380.6 1426.54,378.3 1427.53,376.1 1428.50,373.9 1429.46,371.6 1430.41,369.3 1431.34,367.1 1432.25,364.8 1433.15,362.5 1434.03,360.2 1434.88,357.9 1435.72,355.6 1436.54,353.3 1437.34,351.0 1438.11,348.6 1438.86,346.3 1439.58,343.9 1440.28,341.6 1440.96,339.2 1441.60,336.8 1442.21,334.4 1442.80,331.9 1443.36,329.5" fill="none" stroke="#0000a0" stroke-width="10.7" stroke-linecap="round" stroke-linejoin="round"/>
<polyline points="1454.16,328.3 1452.12,323.1 1453.10,313.8 1456.19,302.2 1459.29,288.2 1462.92,275.4 1466.55,261.4 1471.15,254.5 1472.65,248.6 1475.75,240.5 1478.32,232.4 1479.91,220.7 1483.01,210.0" fill="none" stroke="#0000a0" stroke-width="11.6" stroke-linecap="round" stroke-linejoin="round"/>
<polyline points="631.88,693.5 635.35,693.6 638.82,693.7 642.29,693.8 645.77,693.9 649.25,693.9 652.73,694.0 656.21,694.1 659.70,694.2 663.19,694.2 666.69,694.3 670.18,694.3 673.68,694.4 677.18,694.4 680.69,694.5 684.19,694.5 687.70,694.6 691.21,694.6 694.73,694.6 698.24,694.7 701.76,694.7 705.28,694.7 708.80,694.7 712.33,694.8 715.86,694.8 719.39,694.8 722.92,694.8 726.45,694.8 729.99,694.8 733.52,694.9 737.06,694.9 740.60,694.9 744.15,694.9 747.69,694.9 751.24,694.9 754.79,694.9 758.33,694.9 761.89,694.9 765.44,694.9 768.99,694.9 772.55,694.9 776.11,694.9 779.66,694.9 783.22,694.9 786.79,694.9 790.35,694.9 793.91,694.9 797.48,694.9 801.04,694.9 804.61,695.0 808.18,695.0 811.75,695.0 815.32,695.0 818.89,695.0 822.46,695.0 826.03,695.0 829.61,695.0 833.18,695.1 836.75,695.1 840.33,695.1 843.91,695.1 847.48,695.2 851.06,695.2 854.64,695.2 858.22,695.3 861.79,695.3 865.37,695.4 868.95,695.4 872.53,695.5 876.11,695.5 879.69,695.6 883.27,695.7 886.85,695.7 890.43,695.8 894.01,695.9 897.59,696.0 901.17,696.0 904.75,696.1 908.33,696.2 911.91,696.3 915.49,696.4 919.07,696.5 922.65,696.7 926.23,696.8 929.81,696.9 933.39,697.0 936.96,697.2 940.54,697.3 944.12,697.5 947.69,697.6 951.27,697.8 954.84,698.0 958.41,698.1 961.99,698.3 965.56,698.5 969.13,698.7 972.70,698.9 976.27,699.1 979.84,699.3 983.40,699.5 986.97,699.8 990.54,700.0 994.10,700.3 997.66,700.5 1001.22,700.8 1004.78,701.1 1008.34,701.3 1011.90,701.6 1015.46,701.9 1019.01,702.2 1022.56,702.5 1026.11,702.8 1029.66,703.2 1033.21,703.5 1036.76,703.8 1040.30,704.2 1043.85,704.5 1047.39,704.9 1050.93,705.3 1054.46,705.6 1058.00,706.0 1061.53,706.4 1065.07,706.8 1068.59,707.2 1072.12,707.7 1075.65,708.1 1079.17,708.5 1082.69,708.9 1086.21,709.4 1089.73,709.8 1093.24,710.3 1096.75,710.8 1100.26,711.2 1103.77,711.7 1107.27,712.2 1110.77,712.7 1114.27,713.2 1117.77,713.7 1121.26,714.3 1124.75,714.8 1128.24,715.3 1131.73,715.9 1135.21,716.4 1138.69,717.0 1142.17,717.6 1145.64,718.2 1149.11,718.8 1152.58,719.4 1156.04,720.0 1159.50,720.6 1162.96,721.3 1166.42,722.0 1169.87,722.7 1173.32,723.4 1176.76,724.1 1180.20,724.8 1183.64,725.6 1187.07,726.4 1190.50,727.2 1193.93,728.0 1197.36,728.9 1200.78,729.7 1204.19,730.6 1207.60,731.5 1211.01,732.5 1214.42,733.4 1217.82,734.4 1221.22,735.4 1224.61,736.5 1228.00,737.5 1231.38,738.6 1234.77,739.7 1238.14,740.9 1241.52,742.1 1244.88,743.3 1248.25,744.5 1251.61,745.8 1254.96,747.1 1258.31,748.4 1261.65,749.8 1264.99,751.2 1268.32,752.6 1271.64,754.0 1274.96,755.5 1278.27,757.0 1281.58,758.5 1284.87,760.0 1288.16,761.6 1291.45,763.2 1294.72,764.8 1297.99,766.4 1301.24,768.1 1304.49,769.8 1307.73,771.5 1310.96,773.2 1314.18,775.0 1317.39,776.8 1320.60,778.6 1323.79,780.4 1326.97,782.3 1330.14,784.1 1333.30,786.0 1336.45,788.0 1339.59,789.9 1342.71,791.8 1345.83,793.8 1348.93,795.8 1352.02,797.8 1355.10,799.9 1358.16,801.9 1361.21,804.0 1364.25,806.1 1367.28,808.2 1370.29,810.3 1373.29,812.4 1376.27,814.6 1379.24,816.8 1382.20,819.0 1385.15,821.2 1388.08,823.4 1391.00,825.6 1393.91,827.9 1396.81,830.2 1399.70,832.4 1402.57,834.7 1405.44,837.0 1408.30,839.4 1411.14,841.7 1413.98,844.1 1416.81,846.4 1419.63,848.8 1422.45,851.2 1425.25,853.6 1428.05,856.0 1430.84,858.4 1433.62,860.8 1436.40,863.3 1439.17,865.7 1441.94,868.2 1444.70,870.7 1447.45,873.2 1450.20,875.7 1452.95,878.2 1455.69,880.7 1458.43,883.2 1461.17,885.7 1463.90,888.2 1466.63,890.8 1469.36,893.3 1472.08,895.9 1474.81,898.4 1477.53,901.0 1480.25,903.6 1482.98,906.1 1485.70,908.7 1488.42,911.3 1491.14,913.9 1493.87,916.5 1496.59,919.1 1499.32,921.7 1502.05,924.3 1504.78,926.9 1507.51,929.5 1510.25,932.1 1512.99,934.7 1515.73,937.3 1518.48,939.9 1521.24,942.5 1524.00,945.1 1526.77,947.7 1529.55,950.2 1532.33,952.8 1535.13,955.3 1537.93,957.8 1540.75,960.3 1543.57,962.8 1546.41,965.2 1549.26,967.7 1552.12,970.1 1555.00,972.4 1557.89,974.8 1560.79,977.1 1563.71,979.3 1566.64,981.6 1569.60,983.8 1572.56,985.9 1575.55,988.0 1578.56,990.1 1581.58,992.1 1584.63,994.1 1587.69,996.0 1590.78,997.9 1593.89,999.7 1597.02,1001.5 1600.17,1003.2 1603.35,1004.8 1606.55,1006.4 1609.78,1008.0 1613.03,1009.4 1616.31,1010.8 1619.61,1012.1 1622.94,1013.4 1626.30,1014.6 1629.69,1015.7 1633.11,1016.7 1636.56,1017.6 1640.04,1018.5 1643.56,1019.3 1647.10,1020.0" fill="none" stroke="#0000a0" stroke-width="10.4" stroke-linecap="round" stroke-linejoin="round"/>
</g>
<g shape-rendering="crispEdges">
<rect x="271" y="968" width="978" height="154" fill="#000"/>
<rect x="250.5" y="951.5" width="978" height="152.5" fill="#fff" stroke="#000" stroke-width="3"/>
</g>
<rect x="269" y="980" width="105.2" height="9" rx="3" ry="3" fill="#000000"/>
<rect x="269" y="1024" width="105.2" height="9" rx="3" ry="3" fill="#960000"/>
<rect x="269" y="1068" width="105.2" height="9" rx="3" ry="3" fill="#0000a0"/>
<g font-family="'Liberation Sans', sans-serif" font-weight="bold" fill="#000">
<text transform="scale(0.95 1)" font-size="37.6" xml:space="preserve" style="white-space:pre"  x="412.39 450.89 481.27 509.60 540.99 554.22 577.44 600.68 625.21 637.61 669.19 690.10 702.39 714.69 726.98 740.86 764.14 787.83 803.74 815.27 841.68 875.12 889.36 914.01 926.06 940.54 956.19 980.58 993.66 1014.57 1028.99 1049.90 1064.68 1101.20 1126.90 1138.82 1162.55" y="995.90">WBPU-650-Ce   (cerium nitrate 0 mole)</text>
<text transform="scale(0.95 1)" font-size="37.6" xml:space="preserve" style="white-space:pre"  x="412.39 450.89 481.27 509.60 540.99 554.22 577.44 600.68 625.21 637.61 669.19 692.47 713.38 726.98 740.86 764.14 787.83 803.74 815.27 841.68 875.12 889.36 914.01 926.06 940.54 956.19 980.58 993.66 1014.57 1028.99 1052.03 1063.73 1086.89 1110.23 1131.14 1145.79 1182.31 1208.01 1219.93 1243.66" y="1039.75">WBPU-650-Ce4 (cerium nitrate 0.004 mole)</text>
<text transform="scale(0.95 1)" font-size="37.6" xml:space="preserve" style="white-space:pre"  x="412.39 450.89 481.27 509.60 540.99 554.22 577.44 600.68 625.21 637.61 669.19 692.34 713.25 726.98 740.86 764.14 787.83 803.74 815.27 841.68 875.12 889.36 914.01 926.06 940.54 956.19 980.58 993.66 1014.57 1027.53 1040.49 1063.53 1075.36 1098.39 1121.76 1142.67 1157.42 1193.94 1219.64 1231.56 1255.29" y="1083.75">WBPU-650-Ce8 (cerium nitrate  0.008 mole)</text>
</g>
<g font-family="'Liberation Sans', sans-serif" font-weight="bold" fill="#000">
<text transform="scale(0.95 1)" font-size="64" xml:space="preserve" style="white-space:pre"  x="26.16 50.14 91.09 110.89" y="60.65">-0.4</text>
<text transform="scale(0.95 1)" font-size="64" xml:space="preserve" style="white-space:pre"  x="26.16 50.14 91.09 111.19" y="386.40">-0.6</text>
<text transform="scale(0.95 1)" font-size="64" xml:space="preserve" style="white-space:pre"  x="26.16 50.14 91.09 111.17" y="712.00">-0.8</text>
<text transform="scale(0.95 1)" font-size="64" xml:space="preserve" style="white-space:pre"  x="26.16 51.74 91.09 111.25" y="1036.70">-1.0</text><rect x="51.59" y="1028.17" width="11.76" height="9.53" fill="#fff"/><rect x="71.69" y="1028.17" width="10.60" height="9.53" fill="#fff"/>
</g>
<g font-family="'Liberation Sans', sans-serif" font-weight="bold" fill="#000">
<text transform="scale(0.95 1)" font-size="64" xml:space="preserve" style="white-space:pre" ><tspan x="141.22 180.78" y="1279.70">10</tspan><tspan x="223.17 235.73" y="1245.60" font-size="36.7">-6</tspan></text><rect x="136.59" y="1271.17" width="11.76" height="9.53" fill="#fff"/><rect x="156.69" y="1271.17" width="10.60" height="9.53" fill="#fff"/>
<text transform="scale(0.95 1)" font-size="64" xml:space="preserve" style="white-space:pre" ><tspan x="503.11 542.67" y="1279.70">10</tspan><tspan x="585.07 597.58" y="1245.60" font-size="36.7">-5</tspan></text><rect x="480.39" y="1271.17" width="11.76" height="9.53" fill="#fff"/><rect x="500.49" y="1271.17" width="10.60" height="9.53" fill="#fff"/>
<text transform="scale(0.95 1)" font-size="64" xml:space="preserve" style="white-space:pre" ><tspan x="865.00 904.57" y="1279.70">10</tspan><tspan x="946.96 959.35" y="1245.60" font-size="36.7">-4</tspan></text><rect x="824.19" y="1271.17" width="11.76" height="9.53" fill="#fff"/><rect x="844.29" y="1271.17" width="10.60" height="9.53" fill="#fff"/>
<text transform="scale(0.95 1)" font-size="64" xml:space="preserve" style="white-space:pre" ><tspan x="1225.85 1265.41" y="1279.70">10</tspan><tspan x="1307.80 1320.62" y="1245.60" font-size="36.7">-3</tspan></text><rect x="1166.99" y="1271.17" width="11.76" height="9.53" fill="#fff"/><rect x="1187.09" y="1271.17" width="10.60" height="9.53" fill="#fff"/>
<text transform="scale(0.95 1)" font-size="64" xml:space="preserve" style="white-space:pre" ><tspan x="1589.74 1629.30" y="1279.70">10</tspan><tspan x="1671.70 1684.37" y="1245.60" font-size="36.7">-2</tspan></text><rect x="1512.69" y="1271.17" width="11.76" height="9.53" fill="#fff"/><rect x="1532.79" y="1271.17" width="10.60" height="9.53" fill="#fff"/>
<text transform="scale(0.95 1)" font-size="64" xml:space="preserve" style="white-space:pre" ><tspan x="1951.64 1991.20" y="1279.70">10</tspan><tspan x="2032.64 2047.26" y="1245.60" font-size="36.7">-1</tspan></text><rect x="1856.49" y="1271.17" width="11.76" height="9.53" fill="#fff"/><rect x="1876.59" y="1271.17" width="10.60" height="9.53" fill="#fff"/><rect x="1946.29" y="1239.85" width="6.74" height="6.75" fill="#fff"/><rect x="1957.82" y="1239.85" width="6.08" height="6.75" fill="#fff"/>
</g>
<text transform="scale(0.95 1)" font-size="58.1" xml:space="preserve" style="white-space:pre" font-family="'Liberation Sans', sans-serif" font-weight="bold" fill="#000"><tspan x="692.73 733.83 774.77 810.26 832.99 852.33 873.24 910.61 951.90 978.22 1002.12 1038.93 1080.33 1099.67 1119.82 1161.07 1197.93 1236.99 1275.06 1292.96 1314.83 1350.45 1366.60 1386.69 1405.61 1421.76 1441.56 1487.19 1524.58" y="1351.90">Log ( current density, i/ Acm</tspan><tspan x="1582.20 1595.21" y="1322.25" font-size="34.6">-2</tspan><tspan x="1618.90" y="1351.90">)</tspan></text>
</svg>
</body>
</html>
